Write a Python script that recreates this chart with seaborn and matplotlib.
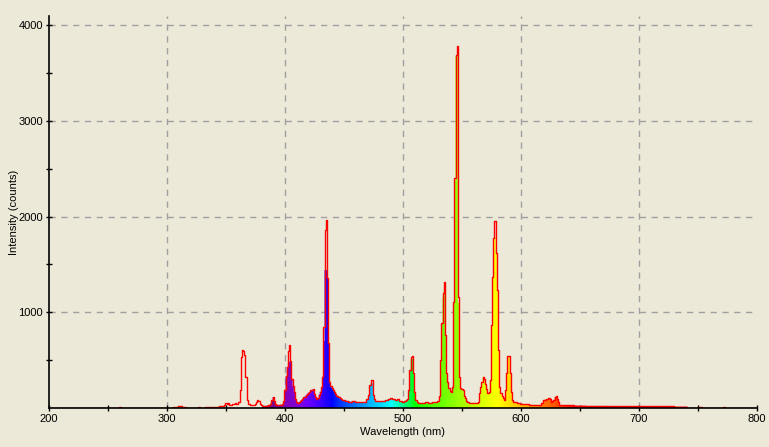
import numpy as np
import matplotlib
matplotlib.use("Agg")
import matplotlib.pyplot as plt
from matplotlib.colors import ListedColormap
import seaborn as sns

# spectrum (nm, counts)
wavelength = [
    200, 258, 260, 262, 304, 306, 308, 310, 312, 314, 318, 326, 327, 329, 332, 333, 335, 337, 339, 341,
    343, 345, 347, 349, 350, 351, 352, 353, 355, 356, 357, 358, 359, 360, 361, 362, 363, 364, 365, 366,
    367, 368, 369, 370, 371, 372, 373, 374, 375, 376, 377, 378, 379, 380, 381, 383, 385, 387, 388, 389,
    390, 391, 392, 393, 395, 397, 398, 399, 400, 401, 402, 403, 404, 405, 406, 407, 408, 409, 410, 411,
    412, 413, 414, 415, 416, 417, 418, 419, 420, 421, 422, 423, 424, 425, 426, 427, 428, 429, 430, 431,
    432, 433, 434, 435, 436, 437, 438, 439, 440, 441, 442, 443, 444, 445, 446, 447, 448, 449, 450, 452,
    454, 456, 458, 460, 462, 464, 466, 468, 470, 471, 472, 473, 474, 475, 476, 477, 478, 480, 482, 484,
    486, 488, 490, 492, 494, 496, 498, 500, 502, 503, 504, 505, 506, 507, 508, 509, 510, 511, 512, 514,
    516, 518, 520, 522, 524, 526, 528, 530, 531, 532, 533, 534, 535, 536, 537, 538, 539, 540, 541, 542,
    543, 544, 545, 546, 547, 548, 549, 550, 551, 552, 553, 554, 555, 557, 559, 561, 563, 564, 565, 566,
    567, 568, 569, 570, 571, 572, 573, 574, 575, 576, 577, 578, 579, 580, 581, 582, 583, 584, 585, 586,
    587, 588, 589, 590, 591, 592, 593, 594, 596, 598, 600, 602, 605, 608, 612, 616, 618, 619, 620, 622,
    624, 625, 626, 627, 628, 629, 630, 631, 632, 633, 640, 650, 660, 670, 680, 690, 700, 720, 740, 742,
    750, 752, 754, 770, 772, 774, 800,
]

# red trace
counts = [
    0, 0, 8, 0, 0, 12, 8, 18, 20, 6, 0, 0, 10, 0, 0, 10, 14, 8, 12, 6,
    14, 20, 25, 35, 50, 40, 55, 35, 30, 45, 40, 48, 42, 38, 60, 190, 530, 605, 600, 553,
    327, 87, 45, 40, 35, 30, 28, 30, 40, 65, 85, 70, 40, 30, 25, 22, 25, 30, 45, 80,
    115, 70, 40, 35, 32, 35, 40, 70, 190, 330, 430, 600, 660, 490, 300, 230, 172, 90, 68, 57,
    60, 70, 85, 98, 110, 120, 135, 150, 160, 170, 186, 190, 198, 150, 110, 94, 100, 140, 170, 220,
    327, 850, 1860, 1963, 1357, 680, 275, 230, 209, 190, 170, 150, 130, 118, 110, 100, 92, 84, 80, 75,
    68, 66, 70, 66, 62, 60, 58, 62, 90, 136, 240, 292, 290, 136, 90, 75, 73, 70, 73, 75,
    82, 95, 101, 90, 84, 90, 72, 66, 75, 84, 90, 188, 397, 536, 548, 362, 170, 84, 60, 55,
    52, 55, 60, 55, 55, 58, 60, 70, 122, 500, 885, 1198, 1313, 762, 362, 275, 210, 180, 170, 223,
    1110, 2399, 3687, 3781, 1162, 327, 205, 195, 188, 130, 101, 70, 58, 55, 52, 55, 55, 60, 153, 220,
    275, 327, 300, 250, 200, 153, 170, 292, 867, 1371, 1772, 1957, 1616, 1232, 606, 223, 153, 130, 101, 84,
    188, 362, 543, 543, 362, 170, 84, 66, 62, 49, 45, 42, 38, 35, 30, 28, 50, 80, 88, 91,
    105, 90, 63, 70, 80, 115, 122, 90, 63, 30, 28, 25, 22, 22, 20, 18, 18, 16, 15, 0,
    0, 10, 0, 0, 8, 0, 0,
]

# coloured (filled) trace, only visible from ~380 nm
fill_counts = [
    0, 0, 0, 0, 0, 0, 0, 0, 0, 0, 0, 0, 0, 0, 0, 0, 0, 0, 0, 0,
    0, 0, 0, 0, 0, 0, 0, 0, 0, 0, 0, 0, 0, 0, 0, 0, 0, 0, 0, 0,
    0, 0, 0, 0, 0, 0, 0, 0, 0, 0, 0, 0, 0, 0, 25, 22, 25, 30, 45, 80,
    115, 70, 40, 35, 32, 35, 40, 70, 190, 330, 430, 470, 485, 485, 300, 230, 172, 90, 68, 57,
    60, 70, 85, 98, 110, 120, 135, 150, 160, 170, 186, 190, 198, 150, 110, 94, 100, 140, 170, 220,
    327, 700, 1440, 1441, 1357, 680, 275, 230, 209, 190, 170, 150, 130, 118, 110, 100, 92, 84, 80, 75,
    68, 66, 70, 66, 62, 60, 58, 62, 90, 136, 230, 258, 258, 136, 90, 75, 73, 70, 73, 75,
    82, 95, 101, 90, 84, 90, 72, 66, 75, 84, 90, 188, 397, 512, 512, 362, 170, 84, 60, 55,
    52, 55, 60, 55, 55, 58, 60, 70, 122, 500, 885, 1150, 1230, 762, 362, 275, 210, 180, 170, 223,
    1110, 2380, 3676, 3676, 1100, 327, 205, 195, 188, 130, 101, 70, 58, 55, 52, 55, 55, 60, 153, 220,
    275, 327, 300, 250, 200, 153, 170, 292, 867, 1371, 1772, 1790, 1616, 1232, 606, 223, 153, 130, 101, 84,
    188, 362, 530, 530, 362, 170, 84, 66, 62, 49, 45, 42, 38, 35, 30, 28, 50, 80, 88, 91,
    105, 90, 63, 70, 80, 115, 122, 90, 63, 30, 28, 25, 22, 22, 20, 18, 18, 16, 15, 0,
    0, 0, 0, 0, 0, 0, 0,
]

x_ticks = [200, 300, 400, 500, 600, 700, 800]
x_minor = [250, 350, 450, 550, 650, 750]
y_ticks = [1000, 2000, 3000, 4000]
y_minor = [500, 1500, 2500, 3500]


def wavelength_to_rgb(wl, gamma=0.8):
    # Dan Bruton style approximation
    if wl < 440:
        r, g, b = -(wl - 440) / 60, 0.0, 1.0
    elif wl < 490:
        r, g, b = 0.0, (wl - 440) / 50, 1.0
    elif wl < 510:
        r, g, b = 0.0, 1.0, -(wl - 510) / 20
    elif wl < 580:
        r, g, b = (wl - 510) / 70, 1.0, 0.0
    elif wl < 645:
        r, g, b = 1.0, -(wl - 645) / 65, 0.0
    else:
        r, g, b = 1.0, 0.0, 0.0
    f = 1.0
    if wl < 420:
        f = 0.3 + 0.7 * (wl - 380) / 40
    return tuple((c * f) ** gamma for c in (r, g, b))


sns.set_theme(style="ticks")
plt.rcParams['font.family'] = ['Liberation Sans', 'DejaVu Sans']
bg = '#ECE9D8'
fs = 8

fig = plt.figure(figsize=(7.69, 4.47), dpi=100, facecolor=bg)
ax = fig.add_axes([0.0637, 0.0872, 0.9207, 0.877], facecolor=bg)

# filled spectrum coloured by wavelength
poly = ax.fill_between(wavelength, fill_counts, step='mid', color='none', lw=0)
grad = np.linspace(380, 800, 841)
spectrum_cmap = ListedColormap([wavelength_to_rgb(w) for w in grad])
img = ax.imshow(grad[None, :], cmap=spectrum_cmap, extent=(380, 800, 0, 4095),
                aspect='auto', origin='lower', zorder=1)
img.set_clip_path(poly.get_paths()[0], transform=ax.transData)

# red trace on top
sns.lineplot(x=wavelength, y=counts, color='#FF0000', lw=1.0, drawstyle='steps-mid',
             estimator=None, ax=ax, zorder=2)

# dashed grid
for v in x_ticks[1:-1]:
    ax.axvline(v, color='#A0A0A0', lw=1, ls=(0, (4.5, 4)), zorder=0.5)
for v in y_ticks:
    ax.axhline(v, color='#A0A0A0', lw=1, ls=(0, (4.5, 4)), zorder=0.5)

ax.set_xlim(200, 800)
ax.set_ylim(0, 4095)
ax.set_xticks(x_ticks)
ax.set_xticks(x_minor, minor=True)
ax.set_yticks(y_ticks)
ax.set_yticks(y_minor, minor=True)
ax.tick_params(which='both', direction='inout', length=4.5, width=1, color='black',
               labelsize=fs, labelcolor='black', pad=2)

for s in ['top', 'right']:
    ax.spines[s].set_visible(False)
for s in ['left', 'bottom']:
    ax.spines[s].set_color('black')
    ax.spines[s].set_linewidth(1.2)
    ax.spines[s].set_zorder(3)

ax.set_xlabel('Wavelength (nm)', fontsize=fs, color='black', labelpad=2)
ax.set_ylabel('Intensity (counts)', fontsize=fs, color='black')
ax.yaxis.set_label_coords(-0.0417, 0.5)

fig.savefig('out.png', dpi=100, facecolor=bg)
